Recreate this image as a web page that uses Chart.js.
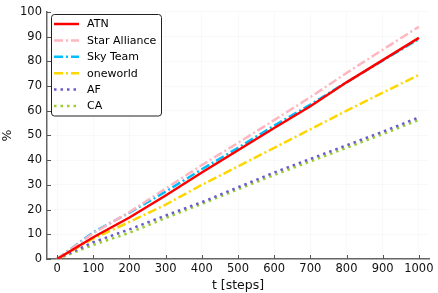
<!DOCTYPE html>
<html>
<head>
<meta charset="utf-8">
<script src="https://cdn.jsdelivr.net/npm/chart.js@4/dist/chart.umd.min.js"></script>
<style>
html,body{margin:0;padding:0;background:#fff;}
#wrap{width:438px;height:293px;position:relative;}
</style>
</head>
<body>
<div id="wrap"><canvas id="c" width="438" height="293"></canvas></div>
<script>
const steps = [0, 100, 200, 300, 400, 500, 600, 700, 800, 900, 1000];
const atn = [0, 8.8, 16.8, 25.7, 35, 44, 53, 61.8, 71.5, 80.5, 89.5];
const starAlliance = [0, 10.5, 19, 28.5, 38, 47, 56.2, 65.5, 75.3, 84.7, 94];
const skyTeam = [0, 10.8, 18.8, 27.3, 36.3, 45, 54, 62.5, 71.5, 80.3, 89];
const oneworld = [0, 8.3, 15, 22, 30, 37.5, 45, 52.5, 60, 67.3, 74.5];
const af = [0, 6.8, 12, 17.6, 23, 29, 35, 40.5, 46, 51.5, 57.3];
const ca = [0, 5.7, 10.6, 16.6, 22.3, 28.2, 34, 39.5, 45, 50.5, 56.3];
const xTicks = [0, 100, 200, 300, 400, 500, 600, 700, 800, 900, 1000];
const yTicks = [0, 10, 20, 30, 40, 50, 60, 70, 80, 90, 100];
const seriesNames = ['ATN', 'Star Alliance', 'Sky Team', 'oneworld', 'AF', 'CA'];

const colors = ['#ff0000', '#ffb6c1', '#00bfff', '#ffd700', '#6a5acd', '#9acd32'];
const dashes = [[], [9, 3, 2, 3], [9, 3, 2, 3], [9, 3, 2, 3], [2.5, 4], [2.5, 4]];
const values = [atn, starAlliance, skyTeam, oneworld, af, ca];

const datasets = seriesNames.map((n, i) => ({
  label: n,
  data: steps.map((s, j) => ({x: s, y: values[i][j]})),
  borderColor: colors[i],
  backgroundColor: colors[i],
  borderDash: dashes[i],
  borderWidth: 2.5,
  pointRadius: 0,
  tension: 0,
  fill: false
}));

const FONT = 'DejaVu Sans';

const tickPlugin = {
  id: 'inticks',
  afterDatasetsDraw(chart) {
    const ctx = chart.ctx;
    const xs = chart.scales.x, ys = chart.scales.y;
    const ca = chart.chartArea;
    ctx.save();
    ctx.strokeStyle = '#555';
    ctx.lineWidth = 1;
    xTicks.forEach(v => {
      const px = Math.round(xs.getPixelForValue(v)) + 0.5;
      ctx.beginPath(); ctx.moveTo(px, ca.bottom); ctx.lineTo(px, ca.bottom - 4); ctx.stroke();
    });
    yTicks.forEach(v => {
      const py = Math.round(ys.getPixelForValue(v)) + 0.5;
      ctx.beginPath(); ctx.moveTo(ca.left, py); ctx.lineTo(ca.left + 4, py); ctx.stroke();
    });
    ctx.restore();
  },
  afterDraw(chart) {
    const ctx = chart.ctx;
    ctx.save();
    const bx = 51.5, by = 14.5, bw = 110, bh = 101.5, r = 3;
    ctx.fillStyle = '#fff';
    ctx.strokeStyle = '#222';
    ctx.lineWidth = 1;
    ctx.beginPath();
    ctx.moveTo(bx + r, by);
    ctx.lineTo(bx + bw - r, by); ctx.arcTo(bx + bw, by, bx + bw, by + r, r);
    ctx.lineTo(bx + bw, by + bh - r); ctx.arcTo(bx + bw, by + bh, bx + bw - r, by + bh, r);
    ctx.lineTo(bx + r, by + bh); ctx.arcTo(bx, by + bh, bx, by + bh - r, r);
    ctx.lineTo(bx, by + r); ctx.arcTo(bx, by, bx + r, by, r);
    ctx.closePath(); ctx.fill(); ctx.stroke();
    ctx.font = '11px "' + FONT + '"';
    ctx.textBaseline = 'middle';
    seriesNames.forEach((n, i) => {
      const y = 24 + i * 16.4;
      ctx.strokeStyle = colors[i];
      ctx.lineWidth = 2.5;
      ctx.setLineDash(dashes[i]);
      ctx.beginPath(); ctx.moveTo(54, y); ctx.lineTo(79, y); ctx.stroke();
      ctx.setLineDash([]);
      ctx.fillStyle = '#000';
      ctx.fillText(n, 87, y + 0.5);
    });
    ctx.restore();
  }
};

new Chart(document.getElementById('c'), {
  type: 'line',
  data: {datasets},
  options: {
    responsive: false,
    animation: false,
    events: [],
    layout: {padding: {left: 0, top: 9, right: 9, bottom: 0}},
    plugins: {legend: {display: false}, tooltip: {enabled: false}},
    scales: {
      x: {
        type: 'linear',
        min: -28, max: 1028,
        afterBuildTicks: a => { a.ticks = xTicks.map(v => ({value: v})); },
        afterFit: s => { s.height = 34; },
        grid: {color: 'rgba(0,0,0,0.025)', drawTicks: false},
        border: {color: '#666', width: 1.5},
        ticks: {color: '#111', font: {family: FONT, size: 11.5}, padding: 3, maxRotation: 0, callback: v => String(v)},
        title: {display: true, text: 't [steps]', color: '#111', font: {family: FONT, size: 12.5}, padding: {top: 0, bottom: 0}}
      },
      y: {
        min: 0, max: 100,
        afterBuildTicks: a => { a.ticks = yTicks.map(v => ({value: v})); },
        afterFit: s => { s.width = 47; },
        grid: {color: 'rgba(0,0,0,0.025)', drawTicks: false},
        border: {color: '#666', width: 1.5},
        ticks: {color: '#111', font: {family: FONT, size: 11.5}, padding: 5, callback: v => String(v)},
        title: {display: true, text: '%', color: '#111', font: {family: FONT, size: 12.5}, padding: {top: 0, bottom: 0}}
      }
    }
  },
  plugins: [tickPlugin]
});
</script>
</body>
</html>
